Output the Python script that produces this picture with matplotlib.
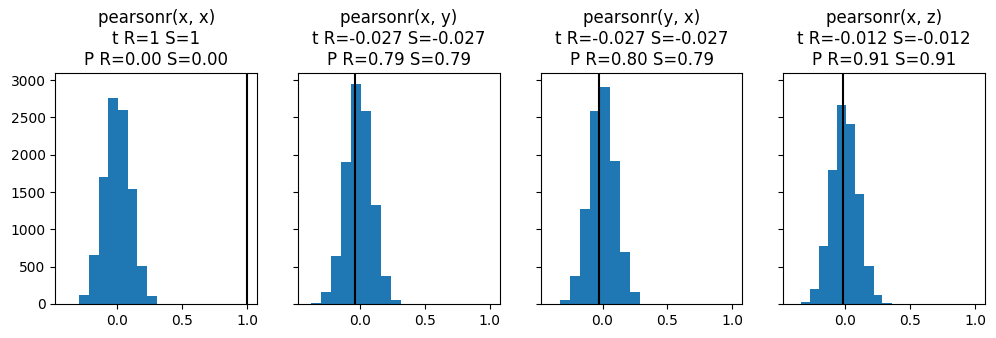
import numpy as np
import matplotlib
matplotlib.use("Agg")
import matplotlib.pyplot as plt

# permutation distributions (bin edges + counts per panel)
titles = [
    "pearsonr(x, x)\nt R=1 S=1\nP R=0.00 S=0.00",
    "pearsonr(x, y)\nt R=-0.027 S=-0.027\nP R=0.79 S=0.79",
    "pearsonr(y, x)\nt R=-0.027 S=-0.027\nP R=0.80 S=0.79",
    "pearsonr(x, z)\nt R=-0.012 S=-0.012\nP R=0.91 S=0.91",
]

edges_xx = [-0.292, -0.218, -0.143, -0.069, 0.006, 0.080, 0.154, 0.229, 0.303]
counts_xx = [120, 656, 1701, 2759, 2598, 1540, 509, 107]

edges_xy = [-0.379, -0.302, -0.224, -0.147, -0.070, 0.008, 0.085, 0.162, 0.240, 0.317]
counts_xy = [13, 161, 647, 1902, 2946, 2585, 1326, 375, 54]

edges_yx = [-0.326, -0.249, -0.172, -0.096, -0.019, 0.058, 0.134, 0.211, 0.288]
counts_yx = [54, 375, 1272, 2585, 2906, 1915, 696, 161]

edges_xz = [-0.339, -0.269, -0.200, -0.130, -0.061, 0.009, 0.079, 0.148, 0.218, 0.287, 0.357]
counts_xz = [22, 201, 777, 1795, 2665, 2411, 1473, 509, 121, 13]

# observed statistic (vertical line)
observed = [1.0, -0.036, -0.025, -0.020]

edges = [edges_xx, edges_xy, edges_yx, edges_xz]
counts = [counts_xx, counts_xy, counts_yx, counts_xz]

fig, axs = plt.subplots(1, 4, figsize=(9.96, 3.38), dpi=100, sharex=True, sharey=True)
fig.subplots_adjust(left=0.0555, right=0.989, bottom=0.1006, top=0.783, wspace=0.203)

for ax, t, e, c, obs in zip(axs, titles, edges, counts, observed):
    ax.hist(e[:-1], bins=e, weights=c, color='tab:blue')
    ax.axvline(obs, color='k')
    ax.set_title(t)

axs[0].set_xlim(-0.477, 1.077)
axs[0].set_ylim(0, 3090)

plt.savefig("out.png", dpi=100)
